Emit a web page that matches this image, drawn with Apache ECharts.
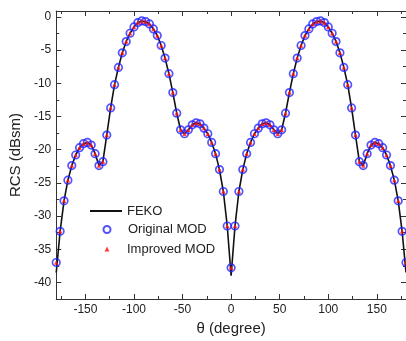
<!DOCTYPE html>
<html>
<head>
<meta charset="utf-8">
<script src="https://cdn.jsdelivr.net/npm/echarts@6/dist/echarts.min.js"></script>
<style>
  html, body { margin: 0; padding: 0; background: #fff; }
  #chart { width: 406px; height: 341px; }
</style>
</head>
<body>
<div id="chart"></div>
<script>
// theta in degrees, one point every 4 degrees
var theta = [
  -180, -176, -172, -168, -164, -160, -156, -152, -148, -144, -140, -136,
  -132, -128, -124, -120, -116, -112, -108, -104, -100, -96, -92, -88,
  -84, -80, -76, -72, -68, -64, -60, -56, -52, -48, -44, -40, -36, -32,
  -28, -24, -20, -16, -12, -8, -4, 0, 4, 8, 12, 16, 20, 24, 28, 32, 36,
  40, 44, 48, 52, 56, 60, 64, 68, 72, 76, 80, 84, 88, 92, 96, 100, 104,
  108, 112, 116, 120, 124, 128, 132, 136, 140, 144, 148, 152, 156, 160,
  164, 168, 172, 176, 180
];
// MOD results (dBsm)
var originalMod = [
  -37.0, -32.3, -27.7, -24.6, -22.4, -20.8, -19.7, -19.1, -18.9, -19.3, -20.6, -22.4,
  -21.8, -17.8, -13.7, -10.2, -7.6, -5.4, -3.7, -2.45, -1.5, -0.85, -0.6, -0.7,
  -1.05, -1.8, -2.8, -4.3, -6.2, -8.55, -11.4, -14.5, -17.0, -17.6, -17.0, -16.25, -15.95, -16.1,
  -16.75, -17.6, -18.9, -20.6, -23.0, -26.3, -31.5, -37.8, -31.5, -26.3, -23.0, -20.6, -18.9, -17.6, -16.75, -16.1, -15.95,
  -16.25, -17.0, -17.6, -17.0, -14.5, -11.4, -8.55, -6.2, -4.3, -2.8, -1.8, -1.05, -0.7, -0.6, -0.85, -1.5, -2.45,
  -3.7, -5.4, -7.6, -10.2, -13.7, -17.8, -21.8, -22.4, -20.6, -19.3, -18.9, -19.1, -19.7, -20.8,
  -22.4, -24.6, -27.7, -32.3, -37.0
];
var improvedMod = originalMod.slice();
// FEKO reference curve
var feko = [
  -38.5, -32.3, -27.7, -24.6, -22.4, -20.8, -19.7, -19.1, -18.9, -19.3, -20.6, -22.4,
  -21.8, -17.8, -13.7, -10.2, -7.6, -5.4, -3.7, -2.45, -1.5, -0.85, -0.6, -0.7,
  -1.05, -1.8, -2.8, -4.3, -6.2, -8.55, -11.4, -14.5, -17.0, -17.6, -17.0, -16.25, -15.95, -16.1,
  -16.75, -17.6, -18.9, -20.6, -23.0, -26.3, -31.5, -39.0, -31.5, -26.3, -23.0, -20.6, -18.9, -17.6, -16.75, -16.1, -15.95,
  -16.25, -17.0, -17.6, -17.0, -14.5, -11.4, -8.55, -6.2, -4.3, -2.8, -1.8, -1.05, -0.7, -0.6, -0.85, -1.5, -2.45,
  -3.7, -5.4, -7.6, -10.2, -13.7, -17.8, -21.8, -22.4, -20.6, -19.3, -18.9, -19.1, -19.7, -20.8,
  -22.4, -24.6, -27.7, -32.3, -38.5
];
var xMajor = [-150, -100, -50, 0, 50, 100, 150];
var xMinor = [-175, -125, -75, -25, 25, 75, 125, 175];
var yMajor = [-40, -35, -30, -25, -20, -15, -10, -5, 0];
var yMinor = [-37.5, -32.5, -27.5, -22.5, -17.5, -12.5, -7.5, -2.5];

function pairs(xs, ys) {
  return xs.map(function (x, i) { return [x, ys[i]]; });
}

var font = 'Arial, "Liberation Sans", sans-serif';
var axisColor = '#333';

function xAxisOf(position, ticks, len, withLine, withLabel) {
  return {
    type: 'value', min: -180, max: 180, position: position,
    axisLine: { show: withLine, onZero: false, lineStyle: { color: axisColor, width: 1 } },
    axisTick: { show: true, inside: true, length: len, customValues: ticks,
      lineStyle: { color: axisColor, width: 1 } },
    axisLabel: withLabel
      ? { show: true, customValues: ticks, fontSize: 12, color: '#222', fontFamily: font, margin: 5 }
      : { show: false },
    splitLine: { show: false }
  };
}
function yAxisOf(position, ticks, len, withLine, withLabel) {
  return {
    type: 'value', min: -42.5, max: 0.9, position: position,
    axisLine: { show: withLine, onZero: false, lineStyle: { color: axisColor, width: 1 } },
    axisTick: { show: true, inside: true, length: len, customValues: ticks,
      lineStyle: { color: axisColor, width: 1 } },
    axisLabel: withLabel
      ? { show: true, customValues: ticks, fontSize: 12, color: '#222', fontFamily: font, margin: 5 }
      : { show: false },
    splitLine: { show: false }
  };
}

var xMain = xAxisOf('bottom', xMajor, 5, true, true);
xMain.name = 'θ (degree)';
xMain.nameLocation = 'middle';
xMain.nameGap = 22;
xMain.nameTextStyle = { fontSize: 15, color: '#222', fontFamily: font };

var yMain = yAxisOf('left', yMajor, 5, true, true);
yMain.name = 'RCS (dBsm)';
yMain.nameLocation = 'middle';
yMain.nameGap = 23;
yMain.nameTextStyle = { fontSize: 15, color: '#222', fontFamily: font };

var legendText = { fontSize: 13, color: '#222', fontFamily: font };

var chart = echarts.init(document.getElementById('chart'), null, { renderer: 'canvas' });
chart.setOption({
  animation: false,
  backgroundColor: '#fff',
  grid: { left: 54, right: -2, top: 11, bottom: 37 },
  xAxis: [
    xMain,
    xAxisOf('bottom', xMinor, 3, false, false),
    xAxisOf('top', xMajor, 5, true, false),
    xAxisOf('top', xMinor, 3, false, false)
  ],
  yAxis: [
    yMain,
    yAxisOf('left', yMinor, 3, false, false),
    yAxisOf('right', yMajor, 5, true, false),
    yAxisOf('right', yMinor, 3, false, false)
  ],
  legend: [
    { data: [{ name: 'FEKO', icon: 'rect' }], left: 90, top: 204.5, padding: 0,
      itemWidth: 32, itemHeight: 2, textStyle: legendText },
    { data: [{ name: 'Original MOD', icon: 'circle' }], left: 102.5, top: 223, padding: 0,
      itemWidth: 7, itemHeight: 7,
      textStyle: Object.assign({ padding: [0, 0, 0, 12.5] }, legendText) },
    { data: [{ name: 'Improved MOD', icon: 'triangle' }], left: 104.5, top: 242.5, padding: 0,
      itemWidth: 5, itemHeight: 5,
      textStyle: Object.assign({ padding: [0, 0, 0, 12.5] }, legendText) }
  ],
  series: [
    {
      name: 'FEKO', type: 'line', data: pairs(theta, feko),
      symbol: 'none', z: 1,
      lineStyle: { color: '#111', width: 1.6 }, itemStyle: { color: '#111' }
    },
    {
      name: 'Original MOD', type: 'scatter', data: pairs(theta, originalMod),
      symbol: 'circle', symbolSize: 7.5, z: 2,
      itemStyle: { color: 'rgba(255,255,255,0)', borderColor: '#2525ff', borderWidth: 1.7 }
    },
    {
      name: 'Improved MOD', type: 'scatter', data: pairs(theta, improvedMod),
      symbol: 'triangle', symbolSize: 4.5, z: 3,
      itemStyle: { color: '#ff1010' }
    }
  ]
});
</script>
</body>
</html>
